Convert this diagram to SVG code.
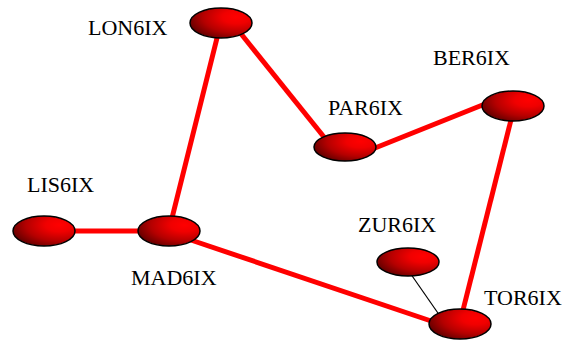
<svg xmlns="http://www.w3.org/2000/svg" width="566" height="340" viewBox="0 0 566 340">
  <defs>
    <!-- shaded red fill for the node balls, lit from the upper right -->
    <radialGradient id="ballRed" cx="0.75" cy="0.3" r="0.9" fx="0.75" fy="0.3">
      <stop offset="0" stop-color="#ff0000"/>
      <stop offset="0.25" stop-color="#f00000"/>
      <stop offset="0.6" stop-color="#b40000"/>
      <stop offset="1" stop-color="#4a0000"/>
    </radialGradient>
  </defs>
  <style>
    .link { stroke: #ff0000; stroke-width: 5; stroke-linecap: butt; fill: none; }
    .thin { stroke: #000000; stroke-width: 1.2; fill: none; }
    .node ellipse { fill: url(#ballRed); stroke: #000000; stroke-width: 1.5; }
    .label { font-family: "Liberation Serif", "Times New Roman", serif; font-size: 22px; fill: #000000; }
  </style>

  <g id="connectors">
    <line class="link" x1="219" y1="30" x2="171" y2="222"/>
    <line class="link" x1="238" y1="30" x2="328" y2="142"/>
    <line class="link" x1="370" y1="150" x2="490" y2="102"/>
    <line class="link" x1="513" y1="112" x2="461" y2="318"/>
    <line class="link" x1="70" y1="231" x2="145" y2="231"/>
    <line class="link" x1="182" y1="237" x2="440" y2="324"/>
    <line class="thin" x1="408" y1="270" x2="440" y2="316"/>
  </g>

  <g id="LON6IX" class="node">
    <ellipse cx="221" cy="23" rx="31" ry="15"/>
    <text class="label" x="88" y="35">LON6IX</text>
  </g>
  <g id="PAR6IX" class="node">
    <ellipse cx="345" cy="147" rx="31" ry="14"/>
    <text class="label" x="328" y="115">PAR6IX</text>
  </g>
  <g id="BER6IX" class="node">
    <ellipse cx="513" cy="106" rx="31" ry="15"/>
    <text class="label" x="433" y="65">BER6IX</text>
  </g>
  <g id="LIS6IX" class="node">
    <ellipse cx="44" cy="231" rx="31" ry="15"/>
    <text class="label" x="27" y="192">LIS6IX</text>
  </g>
  <g id="MAD6IX" class="node">
    <ellipse cx="169" cy="231" rx="31" ry="15"/>
    <text class="label" x="131" y="285">MAD6IX</text>
  </g>
  <g id="ZUR6IX" class="node">
    <ellipse cx="408" cy="262" rx="31" ry="14"/>
    <text class="label" x="358" y="232">ZUR6IX</text>
  </g>
  <g id="TOR6IX" class="node">
    <ellipse cx="460" cy="324" rx="31" ry="15"/>
    <text class="label" x="484" y="305">TOR6IX</text>
  </g>
</svg>
